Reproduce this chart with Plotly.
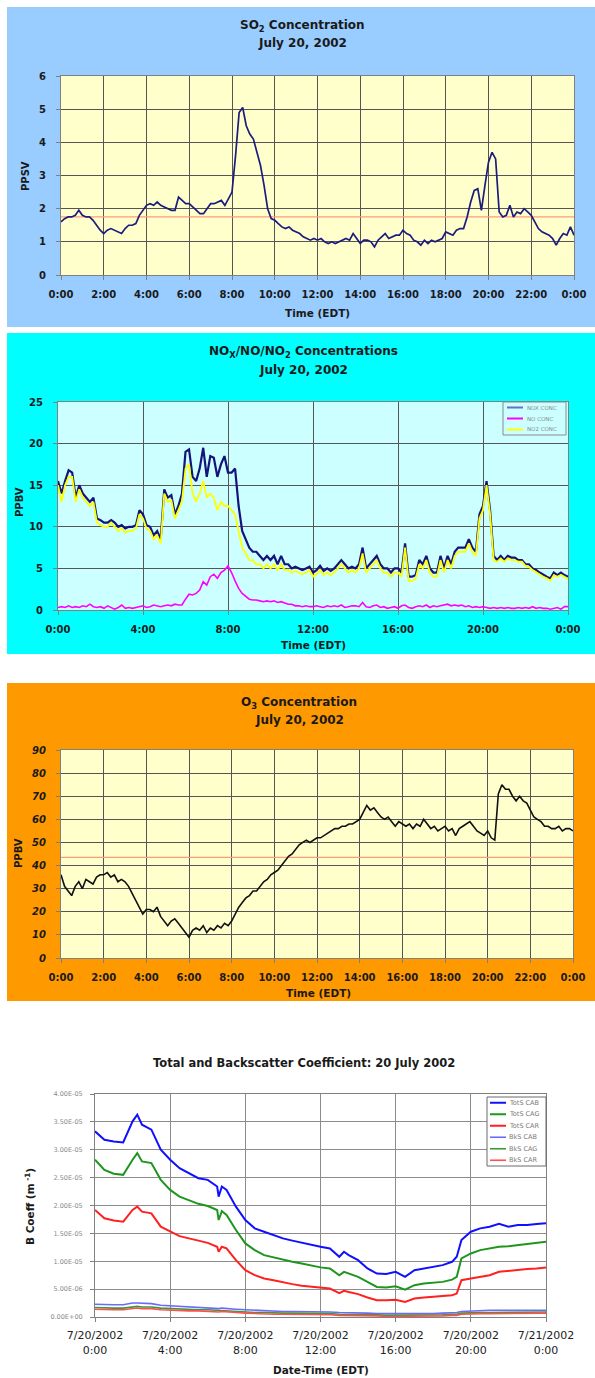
import plotly.graph_objects as go

W, H = 595, 1378
FONT = "DejaVu Sans"


def fx(x):
    return x / W


def fy(y):
    return 1 - y / H


# ---------------- DATA ----------------
TIME_10MIN = [i / 6 for i in range(145)]

SO2_PPBV = [
    1.6, 1.7, 1.75, 1.75, 1.8, 1.95,
    1.8, 1.75, 1.75, 1.65, 1.5, 1.35,
    1.25, 1.35, 1.4, 1.35, 1.3, 1.25,
    1.4, 1.5, 1.5, 1.55, 1.8, 1.95,
    2.1, 2.15, 2.1, 2.2, 2.1, 2.05,
    2.0, 1.95, 1.95, 2.35, 2.25, 2.15,
    2.15, 2.05, 1.95, 1.85, 1.85, 2.0,
    2.15, 2.15, 2.2, 2.25, 2.1, 2.3,
    2.5, 3.6, 4.9, 5.05, 4.5, 4.25,
    4.1, 3.7, 3.3, 2.7, 2.0, 1.7,
    1.65, 1.55, 1.45, 1.4, 1.45, 1.35,
    1.3, 1.25, 1.15, 1.1, 1.05, 1.1,
    1.05, 1.1, 1.0, 0.95, 1.0, 0.95,
    1.0, 1.05, 1.1, 1.05, 1.25, 1.1,
    0.95, 1.05, 1.05, 1.0, 0.85, 1.05,
    1.15, 1.25, 1.1, 1.15, 1.2, 1.2,
    1.35, 1.25, 1.2, 1.05, 1.0, 0.9,
    1.05, 0.95, 1.05, 1.0, 1.05, 1.1,
    1.3, 1.25, 1.2, 1.35, 1.4, 1.4,
    1.75, 2.2, 2.55, 2.6, 1.95, 2.7,
    3.4, 3.7, 3.5, 1.9, 1.75, 1.8,
    2.1, 1.75, 1.9, 1.85, 2.0, 1.9,
    1.8, 1.6, 1.4, 1.3, 1.25, 1.2,
    1.1, 0.9, 1.1, 1.25, 1.2, 1.45,
    1.2,
]
SO2_REFERENCE = 1.75

NOX_CONC = [
    15.5, 14.0, 15.5, 16.8, 16.5, 13.5,
    15.0, 14.0, 13.5, 13.0, 13.5, 11.0,
    10.8, 10.5, 10.5, 10.8, 10.5, 10.0,
    10.2, 9.8, 10.0, 10.0, 10.2, 12.0,
    11.5, 10.2, 10.0, 9.0, 9.5, 8.5,
    14.5, 13.5, 13.8, 11.5, 12.5, 14.0,
    19.0, 19.3, 16.0, 15.5, 17.0, 19.5,
    16.0, 18.5, 18.3, 16.0, 17.5, 18.5,
    16.5, 16.5, 17.0, 12.5, 9.5, 8.5,
    7.5, 7.0, 7.0, 6.5, 6.0, 6.5,
    6.0, 6.5, 5.5, 6.5, 5.5, 5.5,
    5.0, 5.2, 5.0, 4.8, 5.0, 5.2,
    4.5, 4.8, 5.3, 4.7, 5.0, 4.7,
    5.0, 5.5, 6.0, 5.5, 5.0, 5.2,
    5.0, 5.5, 7.5, 5.0, 5.5, 6.0,
    6.5, 5.5, 5.0, 5.0, 4.5, 5.0,
    5.0, 4.5, 8.0, 4.0, 4.0, 4.2,
    6.0, 5.5, 6.5, 5.0, 4.5, 4.5,
    6.5, 5.0, 6.5, 5.5, 7.0, 7.5,
    7.5, 7.5, 8.5, 7.5, 7.0, 11.5,
    12.5, 15.5, 12.0, 6.5, 6.0, 6.5,
    6.0, 6.5, 6.3, 6.3, 6.0, 6.0,
    5.5, 5.5, 5.0, 4.8, 4.5, 4.2,
    4.0, 3.8, 4.5, 4.2, 4.5, 4.2,
    4.0,
]

NO_CONC = [
    0.3, 0.4, 0.3, 0.5, 0.3, 0.4,
    0.3, 0.5, 0.4, 0.7, 0.4, 0.3,
    0.4, 0.2, 0.5, 0.3, 0.1, 0.3,
    0.6, 0.2, 0.3, 0.2, 0.3, 0.4,
    0.5, 0.3, 0.4, 0.6, 0.5, 0.4,
    0.5, 0.6, 0.5, 0.7, 0.6, 0.6,
    1.3, 1.9, 1.8, 2.0, 2.4, 3.4,
    3.0, 4.0, 4.3, 3.8, 4.5, 4.8,
    5.3, 4.5, 3.5, 2.6, 2.0, 1.6,
    1.3, 1.2, 1.2, 1.1, 1.0, 1.1,
    1.0, 1.1, 0.9, 1.0, 0.8, 0.7,
    0.7, 0.5, 0.5, 0.4, 0.5, 0.4,
    0.4, 0.5, 0.4, 0.3, 0.5, 0.4,
    0.5, 0.4, 0.6, 0.3, 0.4, 0.5,
    0.5, 0.4, 0.9, 0.4, 0.3, 0.5,
    0.6, 0.3, 0.4, 0.2, 0.3, 0.4,
    0.2, 0.5, 0.6, 0.3, 0.2, 0.4,
    0.5, 0.4, 0.6, 0.3, 0.5, 0.4,
    0.5, 0.6, 0.7, 0.5, 0.6, 0.5,
    0.6, 0.4, 0.5, 0.3, 0.4, 0.3,
    0.4, 0.3, 0.2, 0.3, 0.2, 0.3,
    0.2, 0.3, 0.2, 0.2, 0.3, 0.2,
    0.3, 0.2, 0.4, 0.2, 0.3, 0.2,
    0.2, 0.1, 0.2, 0.3, 0.1, 0.4,
    0.4,
]

NO2_CONC = [
    15.0, 13.0, 15.0, 16.0, 16.0, 13.0,
    14.5, 13.5, 13.0, 12.5, 13.0, 10.5,
    10.2, 10.0, 10.0, 10.5, 10.0, 9.5,
    9.8, 9.3, 9.5, 9.5, 9.8, 11.5,
    11.0, 9.8, 9.5, 8.5, 9.0, 8.0,
    14.0, 13.0, 13.2, 11.0, 12.0, 13.0,
    17.0, 17.5, 14.0, 13.0, 14.0, 15.5,
    13.5, 14.0, 13.5, 12.0, 13.0, 12.5,
    12.5, 12.0, 11.5, 9.5, 7.5, 6.8,
    6.0, 6.0, 5.5, 5.5, 5.0, 5.5,
    5.0, 5.5, 4.8, 5.5, 4.8, 4.8,
    4.5, 4.7, 4.5, 4.3, 4.5, 4.8,
    4.0, 4.3, 4.8, 4.2, 4.5, 4.2,
    4.5, 5.0, 5.5, 5.0, 4.5, 4.8,
    4.5, 5.0, 6.8, 4.5, 5.0, 5.5,
    6.0, 5.0, 4.5, 4.5, 4.0, 4.5,
    4.5, 4.0, 7.5, 3.5, 3.5, 3.8,
    5.5, 5.0, 6.0, 4.5, 4.0, 4.0,
    6.0, 4.5, 6.0, 5.0, 6.5, 7.0,
    7.0, 7.0, 8.0, 7.0, 6.5, 11.0,
    12.0, 15.0, 11.5, 6.0, 5.8, 6.2,
    5.8, 6.2, 6.0, 6.0, 5.8, 5.8,
    5.3, 5.2, 4.8, 4.5, 4.2, 4.0,
    3.8, 3.5, 4.2, 4.0, 4.2, 4.0,
    3.7,
]

O3_PPBV = [
    36, 31, 29, 27, 31, 33,
    30, 34, 33, 32, 35, 36,
    36, 37, 35, 36, 33, 34,
    33, 31, 28, 25, 22, 19,
    21, 21, 20, 22, 18, 16,
    14, 16, 17, 15, 13, 11,
    9, 12, 13, 12, 14, 11,
    13, 12, 14, 13, 15, 14,
    16, 19, 22, 24, 26, 27,
    29, 29, 31, 33, 34, 36,
    37, 38, 40, 42, 44, 45,
    47, 49, 50, 51, 50, 51,
    52, 52, 53, 54, 55, 56,
    56, 57, 57, 58, 58, 59,
    60, 63, 66, 64, 65, 63,
    61, 60, 61, 59, 57, 59,
    58, 57, 58, 56, 58, 57,
    60, 58, 56, 57, 55, 56,
    57, 55, 56, 53, 56, 57,
    58, 59, 57, 55, 54, 53,
    55, 52, 51, 71, 75, 73,
    73, 70, 68, 70, 68, 67,
    64, 61, 60, 59, 57, 57,
    56, 56, 57, 55, 56, 56,
    55,
]
O3_REFERENCE = 43.5

TIME_P4 = [0, 0.5, 1, 1.5, 2, 2.25, 2.5, 3, 3.5, 4, 4.5, 5, 5.5, 6, 6.5, 6.58,
           6.75, 7, 7.5, 8, 8.5, 9, 9.5, 10, 10.5, 11, 11.5, 12, 12.5, 13,
           13.25, 13.5, 14, 14.5, 15, 15.5, 16, 16.5, 17, 17.5, 18, 18.5, 19,
           19.25, 19.5, 20, 20.5, 21, 21.5, 22, 22.5, 23, 23.5, 24]

# coefficients in units of 1E-06 m^-1
TOTS_CAB = [33.3, 31.8, 31.5, 31.3, 35.1, 36.3, 34.5, 33.6, 30.0, 28.2, 26.7,
            25.8, 24.9, 24.6, 23.4, 21.6, 23.4, 22.8, 19.8, 17.4, 15.9, 15.3,
            14.7, 14.1, 13.7, 13.3, 12.9, 12.6, 12.3, 10.8, 11.7, 11.1, 10.2,
            8.7, 7.8, 7.7, 8.1, 7.2, 8.4, 8.7, 8.9, 9.3, 9.9, 10.8, 13.8, 15.3,
            15.9, 16.2, 16.7, 16.2, 16.5, 16.5, 16.7, 16.8]
TOTS_CAG = [28.2, 26.4, 25.7, 25.5, 28.2, 29.4, 27.9, 27.6, 24.6, 22.8, 21.6,
            21.0, 20.3, 19.9, 19.2, 17.4, 19.0, 18.3, 15.6, 13.2, 12.0, 11.1,
            10.7, 10.2, 9.9, 9.6, 9.2, 8.9, 8.7, 7.5, 8.1, 7.8, 7.2, 6.3, 5.4,
            5.3, 5.5, 4.9, 5.7, 6.0, 6.1, 6.3, 6.7, 7.2, 10.5, 11.4, 12.0,
            12.3, 12.6, 12.7, 12.9, 13.1, 13.3, 13.5]
TOTS_CAR = [19.2, 17.7, 17.3, 17.1, 19.2, 19.8, 18.9, 18.6, 16.2, 15.3, 14.5,
            14.1, 13.7, 13.3, 12.6, 11.7, 12.6, 12.3, 10.2, 8.4, 7.5, 6.9, 6.6,
            6.2, 5.9, 5.6, 5.4, 5.2, 5.1, 4.3, 4.7, 4.5, 4.1, 3.5, 3.0, 3.0,
            3.1, 2.7, 3.3, 3.5, 3.6, 3.7, 3.9, 4.2, 6.6, 6.9, 7.2, 7.5, 8.1,
            8.3, 8.4, 8.6, 8.7, 8.9]
BKS_CAB = [2.3, 2.2, 2.2, 2.2, 2.5, 2.5, 2.5, 2.4, 2.1, 2.0, 1.9, 1.8, 1.7, 1.7,
           1.6, 1.5, 1.6, 1.5, 1.4, 1.3, 1.2, 1.1, 1.1, 1.0, 1.0, 1.0, 0.9, 0.9,
           0.9, 0.8, 0.8, 0.8, 0.8, 0.7, 0.6, 0.6, 0.6, 0.5, 0.6, 0.6, 0.6, 0.7,
           0.7, 0.8, 1.0, 1.1, 1.1, 1.2, 1.2, 1.2, 1.2, 1.2, 1.2, 1.2]
BKS_CAG = [1.7, 1.6, 1.6, 1.6, 1.8, 1.9, 1.8, 1.8, 1.6, 1.5, 1.4, 1.4, 1.3, 1.3,
           1.2, 1.1, 1.2, 1.1, 1.0, 0.9, 0.8, 0.8, 0.7, 0.7, 0.7, 0.7, 0.6, 0.6,
           0.6, 0.5, 0.5, 0.5, 0.5, 0.4, 0.4, 0.3, 0.3, 0.3, 0.4, 0.4, 0.4, 0.4,
           0.5, 0.5, 0.7, 0.8, 0.8, 0.8, 0.8, 0.9, 0.9, 0.9, 0.9, 0.9]
BKS_CAR = [1.4, 1.3, 1.3, 1.3, 1.5, 1.6, 1.5, 1.5, 1.3, 1.2, 1.2, 1.1, 1.1, 1.0,
           1.0, 0.9, 1.0, 0.9, 0.8, 0.7, 0.6, 0.6, 0.5, 0.5, 0.5, 0.5, 0.4, 0.4,
           0.4, 0.3, 0.3, 0.3, 0.3, 0.2, 0.2, 0.1, 0.1, 0.1, 0.2, 0.2, 0.2, 0.2,
           0.3, 0.3, 0.5, 0.6, 0.6, 0.6, 0.6, 0.7, 0.7, 0.7, 0.7, 0.7]

TICKS_2H = list(range(0, 25, 2))
TICKS_2H_TEXT = [f"{h % 24}:00" for h in TICKS_2H]
TICKS_4H = list(range(0, 25, 4))
TICKS_4H_TEXT = [f"{h % 24}:00" for h in TICKS_4H]
TICKS_P4_TEXT = ["7/20/2002<br>0:00", "7/20/2002<br>4:00", "7/20/2002<br>8:00",
                 "7/20/2002<br>12:00", "7/20/2002<br>16:00", "7/20/2002<br>20:00",
                 "7/21/2002<br>0:00"]
P4_YTICKS_E6 = [0, 5, 10, 15, 20, 25, 30, 35, 40]
P4_YTICKS_TEXT = ["0.00E+00", "5.00E-06", "1.00E-05", "1.50E-05", "2.00E-05",
                  "2.50E-05", "3.00E-05", "3.50E-05", "4.00E-05"]

# ---------------- FIGURE ----------------
fig = go.Figure()

# panel 1: SO2
fig.add_trace(go.Scatter(x=[TIME_10MIN[0], TIME_10MIN[-1]], y=[SO2_REFERENCE] * 2,
                         mode="lines", line=dict(color="#FF9A7A", width=1.2),
                         xaxis="x", yaxis="y", showlegend=False, hoverinfo="skip"))
fig.add_trace(go.Scatter(x=TIME_10MIN, y=SO2_PPBV, mode="lines", name="SO2",
                         line=dict(color="#1C1C7C", width=1.7),
                         xaxis="x", yaxis="y", showlegend=False))

# panel 2: NOx / NO / NO2
fig.add_trace(go.Scatter(x=TIME_10MIN, y=NOX_CONC, mode="lines", name="NOX CONC",
                         line=dict(color="#14147A", width=2.2),
                         xaxis="x2", yaxis="y2", showlegend=False))
fig.add_trace(go.Scatter(x=TIME_10MIN, y=NO_CONC, mode="lines", name="NO CONC",
                         line=dict(color="#FF00FF", width=1.6),
                         xaxis="x2", yaxis="y2", showlegend=False))
fig.add_trace(go.Scatter(x=TIME_10MIN, y=NO2_CONC, mode="lines", name="NO2 CONC",
                         line=dict(color="#FFFF00", width=1.8),
                         xaxis="x2", yaxis="y2", showlegend=False))

# panel 3: O3
fig.add_trace(go.Scatter(x=[TIME_10MIN[0], TIME_10MIN[-1]], y=[O3_REFERENCE] * 2,
                         mode="lines", line=dict(color="#FF9A7A", width=1.2),
                         xaxis="x3", yaxis="y3", showlegend=False, hoverinfo="skip"))
fig.add_trace(go.Scatter(x=TIME_10MIN, y=O3_PPBV, mode="lines", name="O3",
                         line=dict(color="#111111", width=1.6),
                         xaxis="x3", yaxis="y3", showlegend=False))

# panel 4: coefficients
P4_SERIES = [
    ("TotS CAB", TOTS_CAB, "#1010FF", 2.0),
    ("TotS CAG", TOTS_CAG, "#1E961E", 2.0),
    ("TotS CAR", TOTS_CAR, "#FF2020", 2.0),
    ("BkS CAB", BKS_CAB, "#6A6AFF", 1.6),
    ("BkS CAG", BKS_CAG, "#3A9A3A", 1.6),
    ("BkS CAR", BKS_CAR, "#FF5050", 1.6),
]
for name, vals, col, wd in P4_SERIES:
    fig.add_trace(go.Scatter(x=TIME_P4, y=[v * 1e-6 for v in vals], mode="lines",
                             name=name, line=dict(color=col, width=wd),
                             xaxis="x4", yaxis="y4", showlegend=False))

GRID = "#555555"
AXL = "#808080"
bold10 = dict(family=FONT, size=10, color="#1a1a1a", weight="bold")


def xax(dom, anchor, tv, tt, grid=GRID, font=bold10, standoff=6):
    return dict(domain=[fx(dom[0]), fx(dom[1])], anchor=anchor, range=[0, 24],
                tickvals=tv, ticktext=tt, showgrid=True, gridcolor=grid, gridwidth=1,
                showline=True, linecolor=AXL, linewidth=1, mirror=True,
                ticks="outside", ticklen=4, tickcolor=AXL, tickfont=font,
                zeroline=False, ticklabelstandoff=standoff, fixedrange=True)


def yax(dom, anchor, rng, dtick, grid=GRID, font=bold10, standoff=8, **kw):
    d = dict(domain=[fy(dom[1]), fy(dom[0])], anchor=anchor, range=rng,
             showgrid=True, gridcolor=grid, gridwidth=1,
             showline=True, linecolor=AXL, linewidth=1, mirror=True,
             ticks="outside", ticklen=4, tickcolor=AXL, tickfont=font,
             zeroline=False, ticklabelstandoff=standoff, fixedrange=True)
    if dtick is not None:
        d["dtick"] = dtick
        d["tick0"] = 0
    d.update(kw)
    return d


italic10 = dict(family=FONT, size=10, color="#1a1a1a", weight="bold", style="italic")
p4x_font = dict(family=FONT, size=11, color="#222222")
p4y_font = dict(family=FONT, size=6.5, color="#8a8a8a")

P1 = dict(x=(61, 574), y=(76, 275))
P2 = dict(x=(58, 568), y=(402, 610))
P3 = dict(x=(61, 573), y=(750, 958))
P4 = dict(x=(95, 546), y=(1094, 1317))

layout = dict(
    width=W, height=H, margin=dict(l=0, r=0, t=0, b=0, autoexpand=False),
    paper_bgcolor="white", plot_bgcolor="rgba(0,0,0,0)", showlegend=False,
    xaxis=xax(P1["x"], "y", TICKS_2H, TICKS_2H_TEXT),
    yaxis=yax(P1["y"], "x", [0, 6], 1),
    xaxis2=xax(P2["x"], "y2", TICKS_4H, TICKS_4H_TEXT),
    yaxis2=yax(P2["y"], "x2", [0, 25], 5),
    xaxis3=xax(P3["x"], "y3", TICKS_2H, TICKS_2H_TEXT),
    yaxis3=yax(P3["y"], "x3", [0, 90], 10, font=italic10),
    xaxis4=xax(P4["x"], "y4", TICKS_4H, TICKS_P4_TEXT, grid="#8c8c8c", font=p4x_font,
               standoff=4),
    yaxis4=yax(P4["y"], "x4", [0, 40e-6], None, grid="#8c8c8c", font=p4y_font,
               standoff=6, tickvals=[v * 1e-6 for v in P4_YTICKS_E6],
               ticktext=P4_YTICKS_TEXT),
)

shapes = []
# panel backgrounds
for (x0, x1, y0, y1, col) in [(7, 595, 7, 327, "#99CCFF"),
                              (7, 595, 333, 654, "#00FFFF"),
                              (7, 595, 683, 1001, "#FF9900")]:
    shapes.append(dict(type="rect", xref="paper", yref="paper", x0=fx(x0), x1=fx(x1),
                       y0=fy(y1), y1=fy(y0), fillcolor=col, line=dict(width=0),
                       layer="below"))
# plot-area backgrounds
for xa, ya, col in [("x", "y", "#FFFFCC"), ("x2", "y2", "#CCFFFF"),
                    ("x3", "y3", "#FFFFCC"), ("x4", "y4", "#FFFFFF")]:
    shapes.append(dict(type="rect", xref=f"{xa} domain", yref=f"{ya} domain",
                       x0=0, x1=1, y0=0, y1=1, fillcolor=col, line=dict(width=0),
                       layer="below"))

annotations = []


def ann(text, x, y, size, bold=True, angle=0, color="#1a1a1a", xanchor="center",
        italic=False):
    annotations.append(dict(text=text, x=fx(x), y=fy(y), xref="paper", yref="paper",
                            showarrow=False, textangle=angle, xanchor=xanchor,
                            yanchor="middle",
                            font=dict(family=FONT, size=size, color=color,
                                      weight="bold" if bold else "normal",
                                      style="italic" if italic else "normal")))


# titles
ann("SO<sub>2</sub> Concentration", 302, 26, 12)
ann("July 20, 2002", 302, 43.5, 12)
ann("Time (EDT)", 317, 312.5, 10.5)
ann("PPSV", 26, 176, 10, angle=-90)

ann("NO<sub>X</sub>/NO/NO<sub>2</sub> Concentrations", 303, 352, 12)
ann("July 20, 2002", 303, 369.5, 12)
ann("Time (EDT)", 313, 645, 10.5)
ann("PPBV", 19, 502, 10, angle=-90)

ann("O<sub>3</sub> Concentration", 299, 703, 12)
ann("July 20, 2002", 299, 720, 12)
ann("Time (EDT)", 318, 993, 10.5)
ann("PPBV", 19, 853, 10, angle=-90)

ann("Total and Backscatter Coefficient: 20 July 2002", 304, 1063, 11.5)
ann("Date-Time (EDT)", 321, 1370, 10.5)
ann("B Coeff (m<sup> -1</sup>)", 29, 1207, 10.5, angle=-90)

# legend panel 2 (drawn manually, compact like the original)
LEG2 = [("NOX CONC", "#6C6CCC"), ("NO CONC", "#FF00FF"), ("NO2 CONC", "#FFFF00")]
lx0, lx1, ly0, ly1 = 503, 566, 402, 435
shapes.append(dict(type="rect", xref="paper", yref="paper", x0=fx(lx0), x1=fx(lx1),
                   y0=fy(ly1), y1=fy(ly0), fillcolor="#CCFFFF",
                   line=dict(color="#8a8a8a", width=1), layer="above"))
step = (ly1 - ly0) / len(LEG2)
for i, (nm, col) in enumerate(LEG2):
    yc = ly0 + step * (i + 0.5)
    shapes.append(dict(type="line", xref="paper", yref="paper", x0=fx(lx0 + 4),
                       x1=fx(lx0 + 20), y0=fy(yc), y1=fy(yc),
                       line=dict(color=col, width=2), layer="above"))
    ann(nm, lx0 + 22, yc, 5.5, bold=False, color="#8a8a8a", xanchor="left")

# legend panel 4
lx0, lx1, ly0, ly1 = 487, 546, 1097, 1166
shapes.append(dict(type="rect", xref="paper", yref="paper", x0=fx(lx0), x1=fx(lx1),
                   y0=fy(ly1), y1=fy(ly0), fillcolor="#FFFFFF",
                   line=dict(color="#6a6a6a", width=1), layer="above"))
step = (ly1 - ly0) / len(P4_SERIES)
for i, (nm, _, col, wd) in enumerate(P4_SERIES):
    yc = ly0 + step * (i + 0.5)
    shapes.append(dict(type="line", xref="paper", yref="paper", x0=fx(lx0 + 3),
                       x1=fx(lx0 + 19), y0=fy(yc), y1=fy(yc),
                       line=dict(color=col, width=wd), layer="above"))
    ann(nm, lx0 + 20, yc, 6.5, bold=False, color="#7a7a7a", xanchor="left")

layout["shapes"] = shapes
layout["annotations"] = annotations
fig.update_layout(**layout)

# remove the default page margin so the 595x1378 figure fills the window exactly
fig.write_html(
    "out.html",
    config={"displayModeBar": False},
    post_script="document.body.style.margin='0';document.body.style.overflow='hidden';",
)
